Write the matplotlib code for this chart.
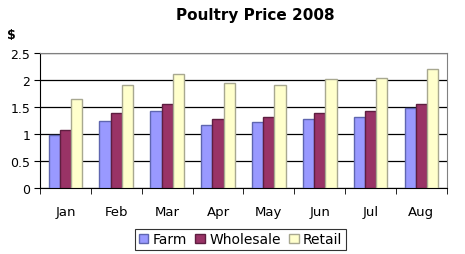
import matplotlib
matplotlib.use("Agg")
import matplotlib.pyplot as plt
import numpy as np

plt.rcParams['font.family'] = ['DejaVu Sans']

MONTHS = ["Jan", "Feb", "Mar", "Apr", "May", "Jun", "Jul", "Aug"]
FARM = [0.98, 1.25, 1.42, 1.17, 1.23, 1.28, 1.32, 1.48]
WHOLESALE = [1.08, 1.38, 1.55, 1.28, 1.32, 1.38, 1.42, 1.55]
RETAIL = [1.64, 1.90, 2.12, 1.95, 1.90, 2.01, 2.03, 2.21]

SERIES = [("Farm", FARM, "#9999FF", "#5F66B0"),
          ("Wholesale", WHOLESALE, "#993366", "#5E1E40"),
          ("Retail", RETAIL, "#FFFFCC", "#A8A890")]

fig = plt.figure(figsize=(4.65, 2.55), dpi=100)
ax = fig.add_axes([0.086, 0.259, 0.875, 0.529])

x = np.arange(len(MONTHS))
width = 0.22
for i, (name, vals, color, edge) in enumerate(SERIES):
    ax.bar(x + (i - 1) * width, vals, width, color=color, edgecolor=edge,
           linewidth=1.0, label=name, zorder=3)

ax.set_xlim(-0.5, len(MONTHS) - 0.5)
ax.set_ylim(0, 2.5)
ax.set_yticks([0, 0.5, 1, 1.5, 2, 2.5])
ax.set_yticklabels(["0", "0.5", "1", "1.5", "2", "2.5"], fontsize=9)
ax.yaxis.grid(True, color="black", linewidth=0.9, zorder=0)

# category labels centred, tick marks between categories
ax.set_xticks(x)
ax.set_xticklabels(MONTHS, fontsize=9.5)
ax.tick_params(axis="x", length=0, pad=12)
ax.set_xticks(np.arange(-0.5, len(MONTHS)), minor=True)
ax.tick_params(axis="x", which="minor", length=4, direction="out", color="black")
ax.tick_params(axis="y", length=4, direction="out", pad=3)

for side in ["top", "right"]:
    ax.spines[side].set_color("#808080")
ax.spines["left"].set_color("black")
ax.spines["bottom"].set_color("black")

fig.text(0.549, 0.94, "Poultry Price 2008", ha="center", va="center",
         fontsize=11, fontweight="bold")
fig.text(0.025, 0.86, "$", ha="center", va="center", fontsize=9, fontweight="bold")

leg = fig.legend(loc="center", bbox_to_anchor=(0.517, 0.057), ncol=3, fontsize=10,
                 frameon=True, fancybox=False, edgecolor="black",
                 handlelength=0.7, handleheight=0.7, handletextpad=0.3,
                 columnspacing=0.6, borderpad=0.25)
leg.get_frame().set_linewidth(0.8)

fig.savefig("out.png", dpi=100)
